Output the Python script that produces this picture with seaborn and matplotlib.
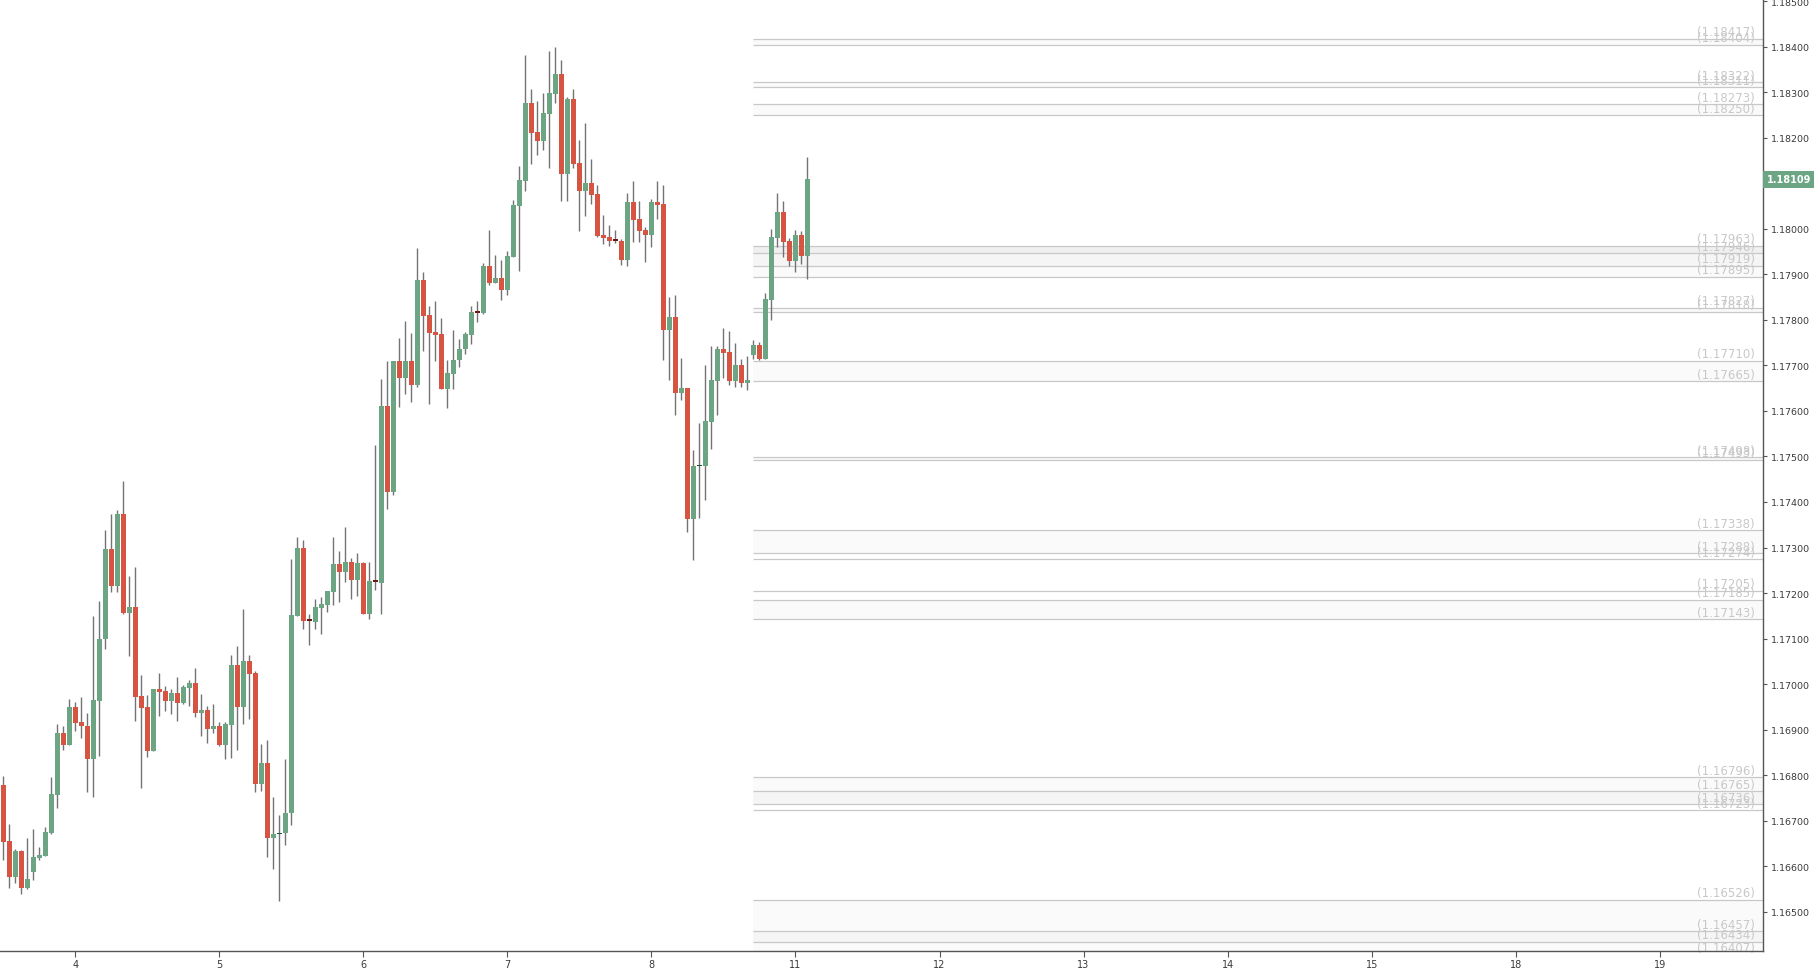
import numpy as np
import pandas as pd
import matplotlib
matplotlib.use('Agg')
import matplotlib.pyplot as plt
import matplotlib.transforms as mtransforms
import seaborn as sns

sns.set_theme(style='white')
plt.rcParams['font.family'] = ['DejaVu Sans']

# Candles (hourly EUR/USD style), from day 3 12:00 to day 11 02:00
opens = [
    1.16778, 1.16655, 1.16577, 1.16633, 1.16553, 1.16588, 1.16619, 1.16623, 1.16674, 1.16757, 1.16893, 1.16867,
    1.16950, 1.16917, 1.16908, 1.16836, 1.16964, 1.17098, 1.17297, 1.17216, 1.17374, 1.17157, 1.17169, 1.16973,
    1.16950, 1.16854, 1.16989, 1.16984, 1.16964, 1.16980, 1.16959, 1.16992, 1.17002, 1.16937, 1.16943, 1.16902,
    1.16908, 1.16867, 1.16911, 1.17042, 1.16950, 1.17051, 1.17024, 1.16781, 1.16827, 1.16663, 1.16671, 1.16672,
    1.16718, 1.17150, 1.17299, 1.17140, 1.17137, 1.17168, 1.17174, 1.17203, 1.17264, 1.17247, 1.17268, 1.17229,
    1.17266, 1.17154, 1.17226, 1.17223, 1.17611, 1.17423, 1.17710, 1.17673, 1.17710, 1.17658, 1.17887, 1.17810,
    1.17773, 1.17769, 1.17649, 1.17682, 1.17711, 1.17735, 1.17767, 1.17817, 1.17814, 1.17918, 1.17882, 1.17892,
    1.17866, 1.17939, 1.18050, 1.18105, 1.18276, 1.18213, 1.18193, 1.18253, 1.18297, 1.18340, 1.18121, 1.18285,
    1.18144, 1.18082, 1.18101, 1.18076, 1.17986, 1.17982, 1.17975, 1.17973, 1.17932, 1.18059, 1.18021, 1.17997,
    1.17987, 1.18059, 1.18054, 1.17778, 1.17806, 1.17640, 1.17650, 1.17363, 1.17479, 1.17478, 1.17576, 1.17666,
    1.17736, 1.17729, 1.17666, 1.17701, 1.17662, 1.17723, 1.17745, 1.17715, 1.17844, 1.17980, 1.18037, 1.17973,
    1.17930, 1.17986, 1.17941,
]
highs = [
    1.16799, 1.16693, 1.16638, 1.16636, 1.16662, 1.16682, 1.16642, 1.16686, 1.16796, 1.16912, 1.16908, 1.16967,
    1.16961, 1.16972, 1.16937, 1.17150, 1.17182, 1.17338, 1.17374, 1.17382, 1.17446, 1.17237, 1.17257, 1.17020,
    1.16976, 1.16990, 1.17024, 1.16996, 1.16989, 1.17016, 1.16998, 1.17009, 1.17035, 1.16978, 1.16952, 1.16956,
    1.16917, 1.16917, 1.17064, 1.17084, 1.17165, 1.17064, 1.17029, 1.16868, 1.16877, 1.16752, 1.16713, 1.16836,
    1.17275, 1.17323, 1.17316, 1.17155, 1.17187, 1.17191, 1.17205, 1.17323, 1.17292, 1.17345, 1.17277, 1.17288,
    1.17268, 1.17268, 1.17525, 1.17670, 1.17710, 1.17710, 1.17760, 1.17797, 1.17771, 1.17958, 1.17905, 1.17830,
    1.17841, 1.17804, 1.17712, 1.17778, 1.17758, 1.17773, 1.17830, 1.17841, 1.17925, 1.17997, 1.17942, 1.17931,
    1.17951, 1.18063, 1.18138, 1.18381, 1.18307, 1.18280, 1.18298, 1.18390, 1.18399, 1.18370, 1.18290, 1.18307,
    1.18195, 1.18232, 1.18153, 1.18096, 1.18030, 1.18008, 1.17997, 1.17978, 1.18079, 1.18105, 1.18061, 1.18004,
    1.18065, 1.18105, 1.18096, 1.17850, 1.17854, 1.17716, 1.17650, 1.17514, 1.17573, 1.17701, 1.17742, 1.17742,
    1.17782, 1.17775, 1.17749, 1.17714, 1.17721, 1.17756, 1.17751, 1.17859, 1.17999, 1.18078, 1.18061, 1.17980,
    1.17997, 1.17995, 1.18158,
]
lows = [
    1.16614, 1.16553, 1.16564, 1.16538, 1.16549, 1.16570, 1.16614, 1.16623, 1.16671, 1.16729, 1.16856, 1.16867,
    1.16898, 1.16882, 1.16764, 1.16753, 1.16843, 1.17078, 1.17203, 1.17203, 1.17155, 1.17062, 1.16918, 1.16772,
    1.16841, 1.16854, 1.16931, 1.16942, 1.16935, 1.16920, 1.16957, 1.16953, 1.16928, 1.16885, 1.16871, 1.16893,
    1.16863, 1.16836, 1.16838, 1.16856, 1.16913, 1.16924, 1.16762, 1.16766, 1.16621, 1.16593, 1.16524, 1.16647,
    1.16691, 1.17150, 1.17122, 1.17087, 1.17122, 1.17109, 1.17159, 1.17174, 1.17181, 1.17225, 1.17188, 1.17194,
    1.17153, 1.17142, 1.17207, 1.17155, 1.17385, 1.17416, 1.17609, 1.17638, 1.17620, 1.17653, 1.17732, 1.17616,
    1.17710, 1.17649, 1.17607, 1.17649, 1.17697, 1.17726, 1.17748, 1.17796, 1.17812, 1.17877, 1.17882, 1.17844,
    1.17855, 1.17939, 1.17908, 1.18083, 1.18143, 1.18163, 1.18174, 1.18134, 1.18276, 1.18061, 1.18060, 1.18134,
    1.17996, 1.18029, 1.18055, 1.17983, 1.17967, 1.17963, 1.17969, 1.17921, 1.17919, 1.17971, 1.17972, 1.17928,
    1.17959, 1.18021, 1.17712, 1.17669, 1.17592, 1.17625, 1.17333, 1.17273, 1.17365, 1.17405, 1.17517, 1.17592,
    1.17673, 1.17658, 1.17653, 1.17653, 1.17647, 1.17714, 1.17712, 1.17715, 1.17800, 1.17961, 1.17939, 1.17919,
    1.17906, 1.17923, 1.17890,
]
closes = [
    1.16654, 1.16577, 1.16633, 1.16553, 1.16572, 1.16620, 1.16625, 1.16675, 1.16759, 1.16893, 1.16867, 1.16950,
    1.16915, 1.16907, 1.16836, 1.16965, 1.17099, 1.17297, 1.17216, 1.17374, 1.17157, 1.17169, 1.16972, 1.16948,
    1.16854, 1.16989, 1.16983, 1.16964, 1.16980, 1.16959, 1.16994, 1.17002, 1.16937, 1.16943, 1.16902, 1.16908,
    1.16867, 1.16912, 1.17042, 1.16950, 1.17051, 1.17023, 1.16781, 1.16827, 1.16663, 1.16671, 1.16672, 1.16718,
    1.17152, 1.17299, 1.17139, 1.17139, 1.17169, 1.17176, 1.17204, 1.17264, 1.17247, 1.17268, 1.17229, 1.17266,
    1.17154, 1.17226, 1.17225, 1.17611, 1.17423, 1.17710, 1.17673, 1.17710, 1.17658, 1.17887, 1.17809, 1.17772,
    1.17767, 1.17649, 1.17683, 1.17712, 1.17736, 1.17769, 1.17817, 1.17816, 1.17918, 1.17882, 1.17892, 1.17866,
    1.17941, 1.18052, 1.18107, 1.18276, 1.18211, 1.18193, 1.18254, 1.18298, 1.18340, 1.18121, 1.18285, 1.18143,
    1.18082, 1.18101, 1.18075, 1.17985, 1.17980, 1.17974, 1.17974, 1.17932, 1.18059, 1.18020, 1.17996, 1.17987,
    1.18059, 1.18053, 1.17778, 1.17806, 1.17640, 1.17650, 1.17363, 1.17479, 1.17480, 1.17578, 1.17668, 1.17736,
    1.17728, 1.17666, 1.17701, 1.17662, 1.17668, 1.17745, 1.17715, 1.17846, 1.17982, 1.18037, 1.17972, 1.17930,
    1.17986, 1.17941, 1.18109,
]

# Day labels on the time axis (candle index of each day start)
day_labels = ['4', '5', '6', '7', '8', '11', '12', '13', '14', '15', '18', '19']
day_index = [12, 36, 60, 84, 108, 132, 156, 180, 204, 228, 252, 276]

# Support / resistance levels and shaded zones, drawn from candle 125 onward
levels = [1.18417, 1.18404, 1.18322, 1.18311, 1.18273, 1.18250, 1.17963, 1.17946, 1.17919, 1.17895,
          1.17827, 1.17818, 1.17710, 1.17665, 1.17498, 1.17493, 1.17338, 1.17288, 1.17274, 1.17205,
          1.17185, 1.17143, 1.16796, 1.16765, 1.16736, 1.16723, 1.16526, 1.16457, 1.16434, 1.16407]
zone_tops = [1.18417, 1.18322, 1.18273, 1.17963, 1.17963, 1.17963, 1.17827, 1.17710, 1.17498, 1.17338,
             1.17185, 1.16796, 1.16765, 1.16526, 1.16457]
zone_bottoms = [1.18404, 1.18311, 1.18250, 1.17895, 1.17919, 1.17946, 1.17818, 1.17665, 1.17493, 1.17288,
                1.17143, 1.16736, 1.16736, 1.16407, 1.16434]
zone_start = 125
last_price = 1.18109

GREEN = '#6ba583'
RED = '#d75442'
WICK = '#737375'

df = pd.DataFrame({'open': opens, 'high': highs, 'low': lows, 'close': closes})
df['x'] = np.arange(len(df))
df['doji'] = (df['close'] - df['open']).abs() < 0.000015
df['up'] = df['close'] >= df['open']
df['color'] = np.where(df['doji'], np.where(df['up'], '#1f5235', '#6a1a12'),
                       np.where(df['up'], GREEN, RED))
df['bottom'] = df[['open', 'close']].min(axis=1)
df['height'] = (df['close'] - df['open']).abs().clip(lower=0.00003)

fig = plt.figure(figsize=(18.14, 9.70), dpi=100)
ax = fig.add_axes([0, 18.3 / 970, 1763 / 1814, 951.7 / 970])

x_min, x_max = -0.53, 293.2
ax.set_xlim(x_min, x_max)
ax.set_ylim(1.164145, 1.185047)

# zones and level lines
for top, bot in zip(zone_tops, zone_bottoms):
    ax.fill_between([zone_start, x_max], bot, top, color='#808080', alpha=0.035, linewidth=0, zorder=1)
ax.hlines(levels, zone_start, x_max, color='#c8c8c8', linewidth=0.9, zorder=2)
for lv in levels:
    ax.text(291.8, lv + 0.00001, f'({lv:.5f})', ha='right', va='bottom', color='#c8c8c8',
            fontsize=8.5, zorder=2)

# candles
ax.vlines(df['x'], df['low'], df['high'], color=WICK, linewidth=1.0, zorder=3)
ax.bar(df['x'], df['height'], bottom=df['bottom'], width=0.8, color=df['color'], linewidth=0, zorder=4)

# axes styling
ax.yaxis.tick_right()
ax.set_yticks(np.arange(1.165, 1.18501, 0.001))
ax.yaxis.set_major_formatter(plt.FormatStrFormatter('%.5f'))
ax.set_xticks(day_index)
ax.set_xticklabels(day_labels)
for side in ['top', 'left']:
    ax.spines[side].set_visible(False)
for side in ['right', 'bottom']:
    ax.spines[side].set_color('#555555')
    ax.spines[side].set_linewidth(1.0)
ax.tick_params(axis='y', right=True, left=False, length=3, width=0.8, color='#555555',
               labelsize=6.8, labelcolor='#3a3a3a', pad=3)
ax.tick_params(axis='x', bottom=True, length=4, width=0.8, color='#555555',
               labelsize=7, labelcolor='#3a3a3a', pad=2)
ax.grid(False)

# last price tag
trans = mtransforms.blended_transform_factory(ax.transAxes, ax.transData)
ax.annotate(f'{last_price:.5f}', xy=(1.0, last_price), xycoords=trans,
            xytext=(2.6, 0), textcoords='offset points', ha='left', va='center',
            color='white', fontsize=7, fontweight='bold', annotation_clip=False,
            bbox=dict(boxstyle='square,pad=0.35', fc=GREEN, ec='none'))

fig.savefig('out.png', dpi=100)
